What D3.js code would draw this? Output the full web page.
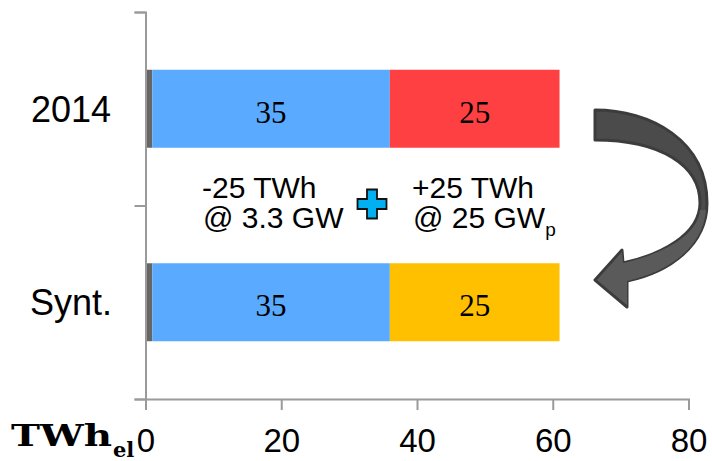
<!DOCTYPE html>
<html><head><meta charset="utf-8">
<script src="https://cdn.jsdelivr.net/npm/d3@7"></script>
<style>body{margin:0;background:#fff}svg{display:block}</style>
</head><body>
<svg id="chart" width="712" height="461"></svg>
<script>
const categories = ["2014", "Synt."];
const otherValues = [1, 1];
const blueValues = [35, 35];
const thirdValues = [25, 25];
const thirdColors = ["#ff4043", "#ffc000"];
const xTicks = [0, 20, 40, 60, 80];
const annotLeft = ["-25 TWh", "@ 3.3 GW"];
const annotRight = ["+25 TWh", "@ 25 GW"];

const svg = d3.select("#chart");
const x = d3.scaleLinear().domain([0, 80]).range([145.5, 688.5]);
const y = d3.scaleBand().domain(categories).range([12, 399]).paddingInner(0.597).paddingOuter(0.2985);
const yEdge = d3.scaleLinear().domain([0, categories.length]).range([12, 399]);

const rows = categories.map((c, i) => ({
  cat: c,
  segs: [
    {x0: 0, v: otherValues[i], color: "#666666", label: false},
    {x0: otherValues[i], v: blueValues[i], color: "#5aabff", label: true},
    {x0: otherValues[i] + blueValues[i], v: thirdValues[i], color: thirdColors[i], label: true}
  ]
}));

const g = svg.append("g");
rows.forEach(r => {
  g.selectAll(null).data(r.segs).enter().append("rect")
    .attr("x", d => x(d.x0)).attr("width", d => x(d.x0 + d.v) - x(d.x0))
    .attr("y", y(r.cat)).attr("height", y.bandwidth())
    .attr("fill", d => d.color);
  g.selectAll(null).data(r.segs.filter(d => d.label)).enter().append("text")
    .attr("x", d => x(d.x0 + d.v / 2)).attr("y", y(r.cat) + y.bandwidth() / 2 + 14)
    .attr("text-anchor", "middle").attr("font-family", "'Liberation Serif', serif")
    .attr("font-size", 31).attr("fill", "#000").text(d => d.v);
});

// axes
const axL = svg.append("g").attr("transform", "translate(145.5,0)")
  .call(d3.axisLeft(yEdge).tickValues(d3.range(0, categories.length + 1)).tickSize(11).tickSizeOuter(11).tickFormat(""));
const axB = svg.append("g").attr("transform", "translate(0,399)")
  .call(d3.axisBottom(x).tickValues(xTicks).tickSize(11).tickSizeOuter(11).tickPadding(19));
[axL, axB].forEach(a => {
  a.selectAll("path,line").attr("stroke", "#9a9a9a").attr("stroke-width", 2);
});
axB.selectAll("text").attr("font-family", "'Liberation Sans', Arial, sans-serif").attr("font-size", 33).attr("fill", "#000");

// category labels
svg.selectAll(".cat").data(categories).enter().append("text")
  .attr("x", 71).attr("y", d => y(d) + y.bandwidth() / 2 + 13)
  .attr("text-anchor", "middle").attr("font-family", "'Liberation Sans', Arial, sans-serif")
  .attr("font-size", 36).attr("fill", "#000").text(d => d);

// x axis unit label
const unit = svg.append("text").attr("x", 11).attr("y", 446)
  .attr("font-family", "'DejaVu Serif', serif").attr("font-weight", "bold").attr("fill", "#000");
unit.append("tspan").attr("font-size", 30).attr("textLength", 101).attr("lengthAdjust", "spacingAndGlyphs").text("TWh");
unit.append("tspan").attr("font-size", 21).attr("dy", 11).attr("x", 113).text("el");

// annotations
const ann = svg.append("g").attr("font-family", "'Liberation Sans', Arial, sans-serif").attr("font-size", 30).attr("fill", "#000");
ann.append("text").attr("x", 202).attr("y", 198).text(annotLeft[0]);
ann.append("text").attr("x", 203).attr("y", 228).text(annotLeft[1]);
ann.append("text").attr("x", 412).attr("y", 198).text(annotRight[0]);
const t4 = ann.append("text").attr("x", 413).attr("y", 228);
t4.append("tspan").text(annotRight[1]);
t4.append("tspan").attr("font-size", 19).attr("dy", 8).text("p");

// plus sign
const cx = 372, cy = 204, a = 14.5, b = 5;
svg.append("path")
  .attr("d", `M${cx-b},${cy-a}H${cx+b}V${cy-b}H${cx+a}V${cy+b}H${cx+b}V${cy+a}H${cx-b}V${cy+b}H${cx-a}V${cy-b}H${cx-b}Z`)
  .attr("fill", "#00b0f0").attr("stroke", "#111").attr("stroke-width", 1.8);

// curved arrow
svg.append("path")
  .attr("d", "M595,110 C650,110 707,140 707,203 C707,245 670,272 627,281 L627,307 L595,280 L622,250 L623,263 C660,255 700,235 700,203 C700,165 660,140 595,140 Z")
  .attr("fill", "#4b4b4b").attr("stroke", "#3c3c3c").attr("stroke-width", 3).attr("stroke-linejoin", "round");
svg.append("path")
  .attr("d", "M706,210 C703,248 668,272 627,281 L627,305 L597,280 L622,252 L623,263 C660,255 698,236 700,210 Z")
  .attr("fill", "#5a5a5a");
</script>
</body></html>
